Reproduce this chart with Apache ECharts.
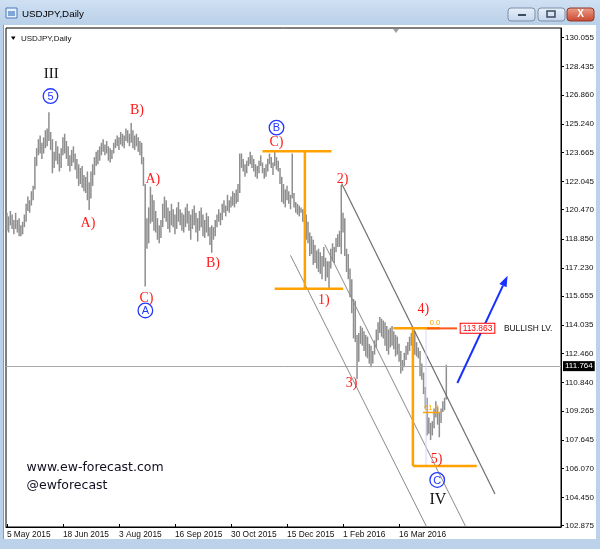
<!DOCTYPE html>
<html><head><meta charset="utf-8">
<script src="https://cdn.jsdelivr.net/npm/echarts@6/dist/echarts.min.js"></script>
<style>html,body{margin:0;padding:0;background:#fff;}#c{width:600px;height:549px;}</style>
</head><body><div id="c"></div>
<script>
// ---- data (USDJPY daily, 5 May 2015 .. 22 Apr 2016) ----
const highs = [
120.3,120.1,120.4,120.2,119.9,120.3,119.9,120.0,119.6,119.8,
120.2,120.8,121.2,121.0,121.5,121.8,
123.4,
123.9,124.4,124.6,124.2,124.5,124.9,125.0,
125.9,
124.8,124.4,123.7,124.3,124.0,123.6,123.9,124.5,124.7,124.3,124.0,123.5,123.8,124.0,123.6,
123.3,123.0,122.8,122.9,122.4,122.3,122.6,122.0,
122.6,123.0,123.4,123.7,123.8,124.0,
124.2,124.4,124.1,124.3,124.0,123.9,123.8,124.2,124.4,124.6,124.5,124.8,124.7,124.6,125.0,124.9,124.7,
125.3,
124.9,124.6,124.7,124.5,124.3,
124.2,123.4,121.9,
120.0,120.6,121.75,121.3,121.0,
120.4,120.0,119.6,119.9,120.8,121.2,121.0,120.6,120.4,120.8,120.5,120.2,120.6,120.9,120.5,120.3,120.2,120.6,120.8,120.4,120.2,120.5,120.7,120.3,120.0,120.4,120.6,120.2,119.9,120.3,120.1,119.5,
119.6,
119.5,119.9,120.2,120.5,120.3,120.8,121.0,120.7,121.3,121.0,121.2,121.5,121.4,121.6,121.9,
123.6,
123.6,123.3,123.0,123.2,123.4,123.7,123.5,123.3,123.0,122.9,123.2,123.5,123.1,122.8,123.0,123.3,123.6,123.4,123.1,123.7,123.4,123.2,
122.8,122.3,121.9,121.6,121.8,121.5,121.3,
123.6,
121.4,120.9,120.8,120.7,120.6,120.5,
120.6,120.2,119.8,119.2,119.0,118.8,118.5,118.2,
118.3,118.1,117.9,118.4,117.8,117.6,
117.6,
118.3,118.6,118.4,118.9,119.1,
119.3,
121.85,
120.3,120.0,118.3,118.0,117.2,116.6,115.5,115.4,113.5,
113.6,114.0,113.9,113.7,113.5,113.4,113.0,112.9,112.6,113.2,113.8,114.2,114.5,114.4,114.3,114.2,114.0,113.8,113.9,114.0,113.7,113.5,113.4,
113.0,112.6,112.1,
112.5,112.9,113.1,113.4,113.6,
113.95,
113.7,113.1,112.8,112.6,111.9,111.4,110.6,110.0,108.9,
108.6,
108.7,109.4,109.8,109.5,109.2,109.4,109.8,110.0,
111.84
];
const lows = [
119.3,119.2,119.6,119.4,119.1,119.4,119.2,119.0,119.0,119.1,
119.5,119.8,120.4,120.3,120.7,121.0,
121.6,
122.9,123.5,123.6,123.3,123.6,123.9,124.0,
124.3,
123.8,122.5,122.8,123.2,123.0,122.6,122.8,123.5,123.6,123.3,122.9,122.6,122.9,123.1,122.7,
122.2,121.8,121.9,121.7,121.5,121.4,121.0,120.45,
121.1,121.8,122.4,122.9,123.0,123.2,
123.5,123.7,123.5,123.6,123.2,123.1,123.3,123.6,123.9,124.0,123.8,124.1,124.0,123.9,124.3,124.2,124.0,
124.2,
123.9,123.8,124.0,123.7,123.5,
123.0,121.8,116.2,
118.3,118.6,119.7,119.8,119.3,
119.2,118.8,118.6,118.9,119.5,120.0,119.8,119.4,119.2,119.6,119.5,119.1,119.4,119.8,119.6,119.3,119.2,119.5,119.7,119.3,118.8,119.4,119.6,119.2,118.7,119.3,119.5,119.0,118.9,119.2,119.0,118.5,
118.07,
118.8,119.0,119.5,119.8,119.6,119.9,120.3,120.1,120.4,120.3,120.6,120.7,120.6,120.8,120.9,
121.4,
122.8,122.6,122.3,122.5,122.9,123.0,122.8,122.6,122.3,122.2,122.5,122.9,122.5,122.2,122.3,122.6,123.0,122.8,122.4,122.9,122.7,122.6,
121.9,120.9,120.8,120.6,121.0,120.8,120.5,
121.1,
120.6,120.3,120.2,120.1,120.3,119.8,
119.7,118.8,118.6,117.9,118.0,117.4,117.5,117.2,
117.0,116.9,116.6,117.3,116.5,116.7,
116.0,
117.2,117.6,117.5,118.1,118.4,
118.4,
118.0,
119.2,117.9,117.0,116.6,115.6,114.7,113.3,113.1,111.05,
112.0,113.0,112.9,112.6,112.3,112.2,111.9,111.7,111.9,112.4,112.8,113.2,113.6,113.4,113.3,112.9,112.6,112.4,112.8,112.9,112.7,112.3,112.4,
112.0,111.35,111.5,
111.7,112.1,112.4,112.6,112.9,
112.9,
112.4,112.3,112.2,111.2,111.0,110.2,109.4,107.9,108.0,
107.65,
107.9,108.3,108.9,108.5,107.8,108.6,109.2,109.3,
109.9
];
const xTickLabels = ['5 May 2015','18 Jun 2015','3 Aug 2015','16 Sep 2015','30 Oct 2015','15 Dec 2015','1 Feb 2016','16 Mar 2016'];
const xTickBars = [0,32,64,96,128,160,192,224];
const yTickValues = [130.055,128.435,126.860,125.240,123.665,122.045,120.470,118.850,117.230,115.655,114.035,112.460,110.840,109.265,107.645,106.070,104.450,102.875];
const currentPrice = 111.764;
const bullishLevel = 113.863;
const slotCount = 317;

// ---- build ----
const categories = [];
for (let i = 0; i < slotCount; i++) {
  const k = xTickBars.indexOf(i);
  categories.push(k >= 0 ? xTickLabels[k] : '');
}
const barData = highs.map((h, i) => [i, lows[i], h]);

const chart = echarts.init(document.getElementById('c'), null, {renderer: 'canvas'});
const isLbl = (i, v) => v !== '';
chart.setOption({
  animation: false,
  backgroundColor: '#ffffff',
  grid: {left: 6, right: 39, top: 28, bottom: 22, show: true, backgroundColor: '#fff', borderColor: '#000', borderWidth: 1},
  xAxis: {
    type: 'category', data: categories, boundaryGap: true,
    axisLine: {show: true, lineStyle: {color: '#000'}},
    axisTick: {show: true, inside: true, length: 3, alignWithLabel: true, interval: isLbl, lineStyle: {color: '#000'}},
    axisLabel: {interval: isLbl, align: 'left', margin: 4, fontFamily: 'Liberation Sans', fontSize: 8.4, color: '#111'},
    splitLine: {show: false}
  },
  yAxis: {
    type: 'value', position: 'right', min: 102.802, max: 130.59,
    axisLine: {show: true, lineStyle: {color: '#000'}},
    axisTick: {show: true, length: 3, customValues: yTickValues, lineStyle: {color: '#000'}},
    axisLabel: {customValues: yTickValues, formatter: v => v.toFixed(3), margin: 4, fontFamily: 'Liberation Sans', fontSize: 8, color: '#111'},
    splitLine: {show: false}
  },
  series: [{
    type: 'custom', data: barData, encode: {x: 0, y: [1, 2]},
    renderItem: (params, api) => {
      const a = api.coord([api.value(0), api.value(1)]);
      const b = api.coord([api.value(0), api.value(2)]);
      return {type: 'line', shape: {x1: a[0], y1: a[1], x2: b[0], y2: b[1]}, style: {stroke: '#8e8e8e', lineWidth: 1.5}};
    },
    markLine: {
      silent: true, symbol: 'none', data: [{yAxis: currentPrice}],
      lineStyle: {color: '#a8a8a8', width: 1, type: 'solid'},
      label: {position: 'end', distance: 2, formatter: () => currentPrice.toFixed(3), backgroundColor: '#000', color: '#fff', padding: [1, 2], fontSize: 8, fontFamily: 'Liberation Sans'}
    }
  }]
});

// ---- annotations ----
const xa = chart.convertToPixel({xAxisIndex: 0}, 0);
const xb = chart.convertToPixel({xAxisIndex: 0}, 100);
const px = i => xa + (xb - xa) * i / 100;
const py = p => chart.convertToPixel({yAxisIndex: 0}, p);
const g = [];
const txt = (t, x, y, fill, font, align) => g.push({type: 'text', x: x, y: y, z: 50, style: {text: t, fill: fill, font: font, align: align || 'center', verticalAlign: 'middle'}});
const seg = (i1, p1, i2, p2, color, w) => g.push({type: 'line', z: 40, shape: {x1: px(i1), y1: py(p1), x2: px(i2), y2: py(p2)}, style: {stroke: color, lineWidth: w}});

// window chrome
g.push({type: 'rect', z: 60, shape: {x: 0, y: 0, width: 600, height: 25}, style: {fill: new echarts.graphic.LinearGradient(0, 0, 0, 1, [{offset: 0, color: '#cfe0f2'}, {offset: 1, color: '#b9d0e9'}])}});
g.push({type: 'rect', z: 60, shape: {x: 0, y: 25, width: 3, height: 524}, style: {fill: '#bcd2ea'}});
g.push({type: 'rect', z: 60, shape: {x: 596, y: 25, width: 4, height: 524}, style: {fill: '#bcd2ea'}});
g.push({type: 'rect', z: 60, shape: {x: 0, y: 539, width: 600, height: 10}, style: {fill: '#bcd2ea'}});
g.push({type: 'line', z: 61, shape: {x1: 3.5, y1: 25, x2: 3.5, y2: 539}, style: {stroke: '#8a9bb0', lineWidth: 1}});
g.push({type: 'rect', z: 61, shape: {x: 6, y: 8, width: 11, height: 10}, style: {fill: '#e8f0fa', stroke: '#4a78b8', lineWidth: 1}});
g.push({type: 'rect', z: 61, shape: {x: 8, y: 11, width: 7, height: 5}, style: {fill: '#7fa6d6'}});
g.push({type: 'text', z: 61, x: 22, y: 14, style: {text: 'USDJPY,Daily', fill: '#000', font: '9.8px "Liberation Sans"', align: 'left', verticalAlign: 'middle'}});
const btn = (x, c1, c2, stroke) => g.push({type: 'rect', z: 61, shape: {x: x, y: 8, width: 27, height: 13, r: 3}, style: {fill: new echarts.graphic.LinearGradient(0, 0, 0, 1, [{offset: 0, color: c1}, {offset: 1, color: c2}]), stroke: stroke, lineWidth: 1}});
btn(508, '#e9f0f9', '#c3d5eb', '#7d8fa6');
btn(538, '#e9f0f9', '#c3d5eb', '#7d8fa6');
btn(567, '#eda08c', '#c8452c', '#8a3a2a');
g.push({type: 'rect', z: 62, shape: {x: 518, y: 14, width: 8, height: 2}, style: {fill: '#3a4a60'}});
g.push({type: 'rect', z: 62, shape: {x: 547, y: 11, width: 8, height: 6}, style: {fill: 'none', stroke: '#3a4a60', lineWidth: 1.5}});
g.push({type: 'text', z: 62, x: 580.5, y: 14.5, style: {text: 'X', fill: '#fff', font: 'bold 10px "Liberation Sans"', align: 'center', verticalAlign: 'middle'}});
// inner chart caption
g.push({type: 'polygon', z: 50, shape: {points: [[11, 36.5], [15.5, 36.5], [13.25, 40]]}, style: {fill: '#000'}});
txt('USDJPY,Daily', 21, 38.3, '#111', '8px "Liberation Sans"', 'left');
g.push({type: 'polygon', z: 50, shape: {points: [[393, 29], [399, 29], [396, 33]]}, style: {fill: '#a0a0a0'}});

// channel lines
seg(191.2, 121.93, 278.8, 104.64, '#6e6e6e', 1.2);
seg(181.6, 118.53, 262.2, 102.80, '#8a8a8a', 1);
seg(162.0, 117.93, 239.8, 102.80, '#8a8a8a', 1);

// orange projection boxes
const OR = '#ffa200';
seg(146.0, 123.73, 185.4, 123.73, OR, 2.5);
seg(170.2, 123.73, 170.2, 116.07, OR, 2.5);
seg(153.0, 116.07, 192.1, 116.07, OR, 2.5);
seg(239.4, bullishLevel, 239.4, 106.20, '#d6d6f4', 1);
seg(220.7, bullishLevel, 247.4, bullishLevel, OR, 2.5);
seg(240.0, bullishLevel, 257.1, bullishLevel, '#ff5a1a', 2);
seg(231.9, bullishLevel, 231.9, 106.20, OR, 2.5);
seg(231.9, 106.20, 268.4, 106.20, OR, 2.5);
seg(237.6, 109.18, 247.4, 109.18, OR, 1.5);
txt('61.8', px(242.5), py(109.18) - 5, OR, '7.5px "Liberation Sans"');
txt('0.0', px(244.5), py(bullishLevel) - 5, OR, '7.5px "Liberation Sans"');
g.push({type: 'text', z: 55, x: px(259.2), y: py(bullishLevel), style: {text: bullishLevel.toFixed(3), fill: '#ff0000', font: '8.4px "Liberation Sans"', align: 'left', verticalAlign: 'middle', backgroundColor: '#fff', borderColor: '#ff0000', borderWidth: 1, padding: [1, 2, 0, 2]}});
txt('BULLISH LV.', px(283.9), py(bullishLevel), '#111', '8.4px "Liberation Sans"', 'left');

// blue arrow
{
  const x1 = px(257.3), y1 = py(110.82), x2 = px(286.0), y2 = py(116.80);
  const ang = Math.atan2(y2 - y1, x2 - x1), L = 11, Wd = 4;
  const bx = x2 - L * Math.cos(ang), by = y2 - L * Math.sin(ang);
  g.push({type: 'line', z: 45, shape: {x1: x1, y1: y1, x2: bx, y2: by}, style: {stroke: '#1830ff', lineWidth: 2}});
  g.push({type: 'polygon', z: 45, shape: {points: [[x2, y2], [bx + Wd * Math.sin(ang), by - Wd * Math.cos(ang)], [bx - Wd * Math.sin(ang), by + Wd * Math.cos(ang)]]}, style: {fill: '#1830ff'}});
}

// wave labels
const RED = '#ff1a1a', SERIF = '14px "Liberation Serif"';
txt('III', px(25.3), py(128.01), '#111', '15px "Liberation Serif"');
txt('IV', px(246.2), py(104.30), '#111', '16px "Liberation Serif"');
[['B)', 74.3, 126.02], ['A)', 46.3, 119.74], ['A)', 83.4, 122.15], ['C)', 79.7, 115.55], ['B)', 117.7, 117.47],
 ['C)', 154.0, 124.23], ['2)', 191.7, 122.19], ['1)', 181.0, 115.42], ['3)', 196.9, 110.82], ['4)', 237.8, 114.90], ['5)', 245.5, 106.58]]
  .forEach(a => txt(a[0], px(a[1]), py(a[2]), RED, SERIF));
[['5', 24.9, 126.80], ['A', 79.1, 114.86], ['B', 154.0, 125.04], ['C', 245.8, 105.42]].forEach(a => {
  g.push({type: 'circle', z: 50, shape: {cx: px(a[1]), cy: py(a[2]), r: 7.3}, style: {fill: 'none', stroke: '#2238ff', lineWidth: 1.3}});
  txt(a[0], px(a[1]), py(a[2]) + 0.5, '#2238ff', '11px "Liberation Sans"');
});

// watermark
txt('www.ew-forecast.com', 26.5, 467.5, '#101020', '12.5px "DejaVu Sans"', 'left');
txt('@ewforecast', 26.5, 485.7, '#101020', '12.5px "DejaVu Sans"', 'left');

chart.setOption({graphic: {elements: g}});
</script>
</body></html>
